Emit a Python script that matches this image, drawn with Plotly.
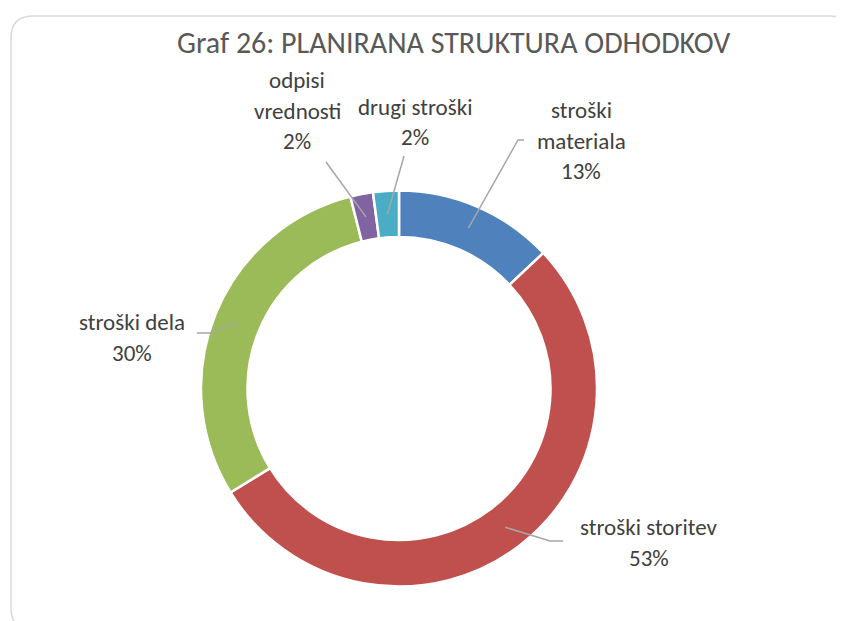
import math
import plotly.graph_objects as go

# ---- data ----
categories = ["stroški materiala", "stroški storitev", "stroški dela", "odpisi vrednosti", "drugi stroški"]
values = [13.0, 53.2, 29.85, 1.85, 2.1]
colors = ["#4F81BD", "#C0504D", "#9BBB59", "#8064A2", "#4BACC6"]
label_lines = [["stroški", "materiala"], ["stroški storitev"], ["stroški dela"], ["odpisi", "vrednosti"], ["drugi stroški"]]
title_text = "Graf 26: PLANIRANA STRUKTURA ODHODKOV"

# page body has an 8px default margin; figure fills the rest of the 844x621 window
OFF = 8
W, H = 844 - OFF, 621 - OFF
CX, CY = 399, 388.5
R_OUT, R_IN = 198, 151.5

FONT = "Calibri, Carlito, Lato, sans-serif"

def px(x):
    return (x - OFF) / W

def py(y):
    return 1 - (y - OFF) / H

fig = go.Figure()
fig.add_trace(go.Pie(
    labels=categories, values=values, sort=False, direction="clockwise", rotation=0,
    hole=R_IN / R_OUT, textinfo="none", hoverinfo="label+percent",
    marker=dict(colors=colors, line=dict(color="white", width=2.5)),
    domain=dict(x=[px(CX - R_OUT), px(CX + R_OUT)], y=[py(CY + R_OUT), py(CY - R_OUT)]),
    showlegend=False,
))

# label placement (text centre x, first line y) and leader-line elbow points
label_pos = [(581, 110), (649, 527), (132, 322), (297, 80), (415, 107)]
leader_pts = [[(518, 140), (524, 140)], [(550, 541), (563, 541)], [(210, 333), (197, 333)], [(326, 162)], [(404, 156)]]
LINE_SP = 30.5

total = sum(values)
cum = 0.0
shapes = []
annotations = []
for i, v in enumerate(values):
    mid = (cum + v / 2) / total * 2 * math.pi
    cum += v
    rm = (R_OUT + R_IN) / 2
    ax, ay = CX + rm * math.sin(mid), CY - rm * math.cos(mid)
    pts = [(ax, ay)] + leader_pts[i]
    path = "M " + " L ".join(f"{px(x)},{py(y)}" for x, y in pts)
    shapes.append(dict(type="path", path=path, xref="paper", yref="paper",
                       line=dict(color="#A6A6A6", width=1.5)))
    pct = f"{round(v / total * 100)}%"
    lines = label_lines[i] + [pct]
    lx, ly = label_pos[i]
    for j, t in enumerate(lines):
        annotations.append(dict(text=t, x=px(lx), y=py(ly + j * LINE_SP), xref="paper", yref="paper",
                                showarrow=False, xanchor="center", yanchor="middle",
                                font=dict(family=FONT, size=23, color="#404040")))

annotations.append(dict(text=title_text, x=px(453), y=py(42), xref="paper", yref="paper",
                        showarrow=False, xanchor="center", yanchor="middle",
                        font=dict(family=FONT, size=30, color="#595959")))

# rounded chart frame
r = 22
x0, y0, x1, y1 = 11, 16, 852, 630
frame = (f"M {px(x0 + r)},{py(y0)} L {px(x1 - r)},{py(y0)} Q {px(x1)},{py(y0)} {px(x1)},{py(y0 + r)} "
         f"L {px(x1)},{py(y1 - r)} Q {px(x1)},{py(y1)} {px(x1 - r)},{py(y1)} "
         f"L {px(x0 + r)},{py(y1)} Q {px(x0)},{py(y1)} {px(x0)},{py(y1 - r)} "
         f"L {px(x0)},{py(y0 + r)} Q {px(x0)},{py(y0)} {px(x0 + r)},{py(y0)} Z")
shapes.insert(0, dict(type="path", path=frame, xref="paper", yref="paper",
                      line=dict(color="#D9D9D9", width=1.5), layer="below"))

fig.update_layout(
    width=W, height=H, margin=dict(l=0, r=0, t=0, b=0),
    paper_bgcolor="white", plot_bgcolor="white",
    shapes=shapes, annotations=annotations,
)
fig.write_html("out.html")
